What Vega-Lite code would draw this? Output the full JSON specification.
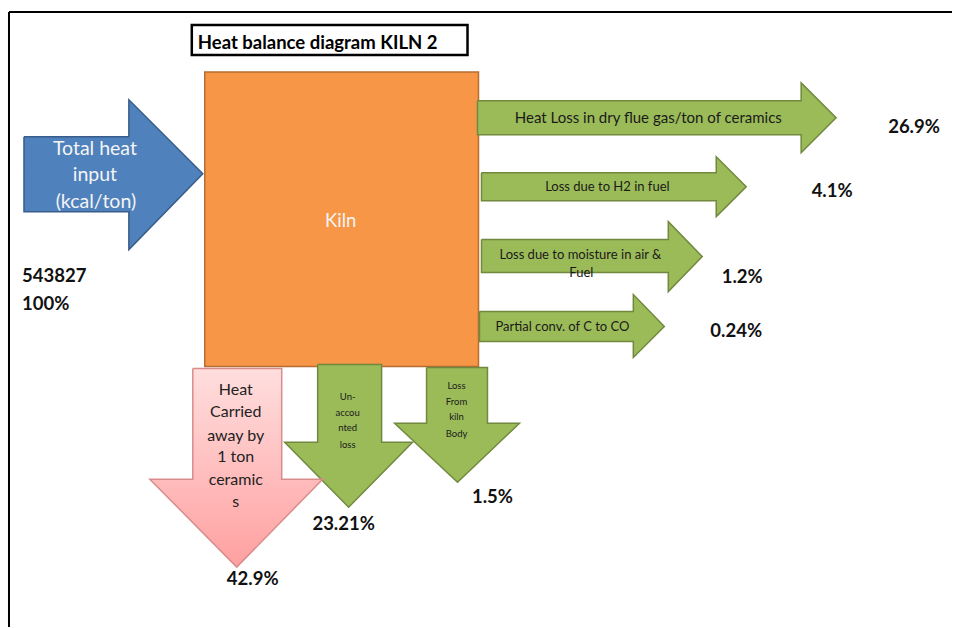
{
  "$schema": "https://vega.github.io/schema/vega-lite/v6.json",
  "width": 953,
  "height": 628,
  "autosize": {"type": "fit", "contains": "padding"},
  "padding": 0,
  "background": "white",
  "config": {"view": {"stroke": null}, "text": {"font": "Lato"}},
  "datasets": {
    "frame": [
      {"x": 9, "y": 12, "x2": 953, "y2": 12},
      {"x": 9, "y": 12, "x2": 9, "y2": 628}
    ],
    "boxes": [
      {"box": "title", "x": 192, "y": 25, "x2": 468, "y2": 55},
      {"box": "kiln", "x": 205, "y": 72, "x2": 479, "y2": 367}
    ],
    "shapes": [
      {"shape": "IN", "kind": "input", "i": 0, "x": 24, "y": 137},
      {"shape": "IN", "kind": "input", "i": 1, "x": 129, "y": 137},
      {"shape": "IN", "kind": "input", "i": 2, "x": 129, "y": 100},
      {"shape": "IN", "kind": "input", "i": 3, "x": 203, "y": 174},
      {"shape": "IN", "kind": "input", "i": 4, "x": 129, "y": 250},
      {"shape": "IN", "kind": "input", "i": 5, "x": 129, "y": 212},
      {"shape": "IN", "kind": "input", "i": 6, "x": 24, "y": 212},
      {"shape": "IN", "kind": "input", "i": 7, "x": 24, "y": 137},

      {"shape": "R1", "kind": "loss", "i": 0, "x": 478, "y": 101},
      {"shape": "R1", "kind": "loss", "i": 1, "x": 802, "y": 101},
      {"shape": "R1", "kind": "loss", "i": 2, "x": 802, "y": 83},
      {"shape": "R1", "kind": "loss", "i": 3, "x": 837, "y": 118},
      {"shape": "R1", "kind": "loss", "i": 4, "x": 802, "y": 153},
      {"shape": "R1", "kind": "loss", "i": 5, "x": 802, "y": 135},
      {"shape": "R1", "kind": "loss", "i": 6, "x": 478, "y": 135},
      {"shape": "R1", "kind": "loss", "i": 7, "x": 478, "y": 101},

      {"shape": "R2", "kind": "loss", "i": 0, "x": 482, "y": 173},
      {"shape": "R2", "kind": "loss", "i": 1, "x": 717, "y": 173},
      {"shape": "R2", "kind": "loss", "i": 2, "x": 717, "y": 157},
      {"shape": "R2", "kind": "loss", "i": 3, "x": 747, "y": 187},
      {"shape": "R2", "kind": "loss", "i": 4, "x": 717, "y": 217},
      {"shape": "R2", "kind": "loss", "i": 5, "x": 717, "y": 201},
      {"shape": "R2", "kind": "loss", "i": 6, "x": 482, "y": 201},
      {"shape": "R2", "kind": "loss", "i": 7, "x": 482, "y": 173},

      {"shape": "R3", "kind": "loss", "i": 0, "x": 482, "y": 240},
      {"shape": "R3", "kind": "loss", "i": 1, "x": 669, "y": 240},
      {"shape": "R3", "kind": "loss", "i": 2, "x": 669, "y": 222},
      {"shape": "R3", "kind": "loss", "i": 3, "x": 703, "y": 257},
      {"shape": "R3", "kind": "loss", "i": 4, "x": 669, "y": 292},
      {"shape": "R3", "kind": "loss", "i": 5, "x": 669, "y": 273},
      {"shape": "R3", "kind": "loss", "i": 6, "x": 482, "y": 273},
      {"shape": "R3", "kind": "loss", "i": 7, "x": 482, "y": 240},

      {"shape": "R4", "kind": "loss", "i": 0, "x": 480, "y": 312},
      {"shape": "R4", "kind": "loss", "i": 1, "x": 634, "y": 312},
      {"shape": "R4", "kind": "loss", "i": 2, "x": 634, "y": 295},
      {"shape": "R4", "kind": "loss", "i": 3, "x": 665, "y": 327},
      {"shape": "R4", "kind": "loss", "i": 4, "x": 634, "y": 358},
      {"shape": "R4", "kind": "loss", "i": 5, "x": 634, "y": 342},
      {"shape": "R4", "kind": "loss", "i": 6, "x": 480, "y": 342},
      {"shape": "R4", "kind": "loss", "i": 7, "x": 480, "y": 312},

      {"shape": "G1", "kind": "loss", "i": 0, "x": 318, "y": 365},
      {"shape": "G1", "kind": "loss", "i": 1, "x": 382, "y": 365},
      {"shape": "G1", "kind": "loss", "i": 2, "x": 382, "y": 443},
      {"shape": "G1", "kind": "loss", "i": 3, "x": 413, "y": 443},
      {"shape": "G1", "kind": "loss", "i": 4, "x": 349, "y": 508},
      {"shape": "G1", "kind": "loss", "i": 5, "x": 285, "y": 443},
      {"shape": "G1", "kind": "loss", "i": 6, "x": 318, "y": 443},
      {"shape": "G1", "kind": "loss", "i": 7, "x": 318, "y": 365},

      {"shape": "G2", "kind": "loss", "i": 0, "x": 427, "y": 368},
      {"shape": "G2", "kind": "loss", "i": 1, "x": 488, "y": 368},
      {"shape": "G2", "kind": "loss", "i": 2, "x": 488, "y": 424},
      {"shape": "G2", "kind": "loss", "i": 3, "x": 520, "y": 424},
      {"shape": "G2", "kind": "loss", "i": 4, "x": 458, "y": 483},
      {"shape": "G2", "kind": "loss", "i": 5, "x": 395, "y": 424},
      {"shape": "G2", "kind": "loss", "i": 6, "x": 427, "y": 424},
      {"shape": "G2", "kind": "loss", "i": 7, "x": 427, "y": 368},

      {"shape": "PK", "kind": "product", "i": 0, "x": 193, "y": 369},
      {"shape": "PK", "kind": "product", "i": 1, "x": 282, "y": 369},
      {"shape": "PK", "kind": "product", "i": 2, "x": 282, "y": 480},
      {"shape": "PK", "kind": "product", "i": 3, "x": 323, "y": 480},
      {"shape": "PK", "kind": "product", "i": 4, "x": 237, "y": 568},
      {"shape": "PK", "kind": "product", "i": 5, "x": 150, "y": 480},
      {"shape": "PK", "kind": "product", "i": 6, "x": 193, "y": 480},
      {"shape": "PK", "kind": "product", "i": 7, "x": 193, "y": 369}
    ],
    "labels": [
      {"group": "title", "text": "Heat balance diagram KILN 2", "x": 198, "y": 43},
      {"group": "white", "text": "Total heat", "x": 95, "y": 149},
      {"group": "white", "text": "input", "x": 95, "y": 175},
      {"group": "white", "text": "(kcal/ton)", "x": 96, "y": 202},
      {"group": "kiln", "text": "Kiln", "x": 341, "y": 221},
      {"group": "left", "text": "543827", "x": 22, "y": 276},
      {"group": "left", "text": "100%", "x": 22, "y": 304},
      {"group": "flow1", "text": "Heat Loss in dry flue gas/ton of ceramics", "x": 649, "y": 118},
      {"group": "flow", "text": "Loss due to H2 in fuel", "x": 608, "y": 187},
      {"group": "flow", "text": "Loss due to moisture in air &", "x": 581, "y": 255},
      {"group": "flow", "text": "Fuel", "x": 582, "y": 273},
      {"group": "flow", "text": "Partial conv. of C to CO", "x": 563, "y": 328},
      {"group": "pct", "text": "26.9%", "x": 915, "y": 127},
      {"group": "pct", "text": "4.1%", "x": 833, "y": 191},
      {"group": "pct", "text": "1.2%", "x": 743, "y": 277},
      {"group": "pct", "text": "0.24%", "x": 737, "y": 332},
      {"group": "pct", "text": "23.21%", "x": 344, "y": 525},
      {"group": "pct", "text": "1.5%", "x": 493, "y": 498},
      {"group": "pct", "text": "42.9%", "x": 253, "y": 580},
      {"group": "pink", "text": "Heat", "x": 236, "y": 391},
      {"group": "pink", "text": "Carried", "x": 236, "y": 413},
      {"group": "pink", "text": "away by", "x": 236, "y": 437},
      {"group": "pink", "text": "1 ton", "x": 236, "y": 458},
      {"group": "pink", "text": "ceramic", "x": 236, "y": 481},
      {"group": "pink", "text": "s", "x": 236, "y": 503},
      {"group": "small", "text": "Un-", "x": 348, "y": 398},
      {"group": "small", "text": "accou", "x": 348, "y": 414},
      {"group": "small", "text": "nted", "x": 348, "y": 429},
      {"group": "small", "text": "loss", "x": 348, "y": 446},
      {"group": "small", "text": "Loss", "x": 457, "y": 387},
      {"group": "small", "text": "From", "x": 457, "y": 403},
      {"group": "small", "text": "kiln", "x": 457, "y": 418},
      {"group": "small", "text": "Body", "x": 457, "y": 435}
    ]
  },
  "encoding": {
    "x": {"field": "x", "type": "quantitative", "axis": null,
          "scale": {"domain": [0, 953], "nice": false, "zero": false}},
    "y": {"field": "y", "type": "quantitative", "axis": null,
          "scale": {"domain": [0, 628], "nice": false, "zero": false, "reverse": true}}
  },
  "layer": [
    {
      "data": {"name": "frame"},
      "mark": {"type": "rule", "color": "#000000", "strokeWidth": 2},
      "encoding": {"x2": {"field": "x2"}, "y2": {"field": "y2"}}
    },
    {
      "data": {"name": "boxes"},
      "transform": [{"filter": "datum.box === 'title'"}],
      "mark": {"type": "rect", "fill": "#ffffff", "stroke": "#000000", "strokeWidth": 2.5},
      "encoding": {"x2": {"field": "x2"}, "y2": {"field": "y2"}}
    },
    {
      "data": {"name": "boxes"},
      "transform": [{"filter": "datum.box === 'kiln'"}],
      "mark": {"type": "rect", "fill": "#F79646", "stroke": "#B66D31", "strokeWidth": 1.5},
      "encoding": {"x2": {"field": "x2"}, "y2": {"field": "y2"}}
    },
    {
      "data": {"name": "shapes"},
      "transform": [{"filter": "datum.kind === 'input'"}],
      "mark": {"type": "line", "fill": "#4F81BD", "stroke": "#385D8A", "strokeWidth": 1.5, "strokeJoin": "miter"},
      "encoding": {"detail": {"field": "shape"}, "order": {"field": "i", "type": "quantitative"}}
    },
    {
      "data": {"name": "shapes"},
      "transform": [{"filter": "datum.kind === 'loss'"}],
      "mark": {"type": "line", "fill": "#9BBB59", "stroke": "#71893F", "strokeWidth": 1.5, "strokeJoin": "miter"},
      "encoding": {"detail": {"field": "shape"}, "order": {"field": "i", "type": "quantitative"}}
    },
    {
      "data": {"name": "shapes"},
      "transform": [{"filter": "datum.kind === 'product'"}],
      "mark": {"type": "line",
               "fill": {"gradient": "linear", "x1": 0, "y1": 0, "x2": 0, "y2": 1,
                        "stops": [{"offset": 0, "color": "#FFDEDE"}, {"offset": 1, "color": "#FFA0A0"}]},
               "stroke": "#D98C8C", "strokeWidth": 1.5, "strokeJoin": "miter"},
      "encoding": {"detail": {"field": "shape"}, "order": {"field": "i", "type": "quantitative"}}
    },
    {
      "data": {"name": "labels"},
      "transform": [{"filter": "datum.group === 'title'"}],
      "mark": {"type": "text", "align": "left", "baseline": "middle", "fontSize": 18.5, "fontWeight": "bold", "color": "#000000"},
      "encoding": {"text": {"field": "text"}}
    },
    {
      "data": {"name": "labels"},
      "transform": [{"filter": "datum.group === 'white'"}],
      "mark": {"type": "text", "align": "center", "baseline": "middle", "fontSize": 19.5, "color": "#F4F4F4"},
      "encoding": {"text": {"field": "text"}}
    },
    {
      "data": {"name": "labels"},
      "transform": [{"filter": "datum.group === 'kiln'"}],
      "mark": {"type": "text", "align": "center", "baseline": "middle", "fontSize": 18.5, "color": "#F4F4F4"},
      "encoding": {"text": {"field": "text"}}
    },
    {
      "data": {"name": "labels"},
      "transform": [{"filter": "datum.group === 'left'"}],
      "mark": {"type": "text", "align": "left", "baseline": "middle", "fontSize": 18.5, "fontWeight": "bold", "color": "#111111"},
      "encoding": {"text": {"field": "text"}}
    },
    {
      "data": {"name": "labels"},
      "transform": [{"filter": "datum.group === 'pct'"}],
      "mark": {"type": "text", "align": "center", "baseline": "middle", "fontSize": 18.5, "fontWeight": "bold", "color": "#111111"},
      "encoding": {"text": {"field": "text"}}
    },
    {
      "data": {"name": "labels"},
      "transform": [{"filter": "datum.group === 'flow1'"}],
      "mark": {"type": "text", "align": "center", "baseline": "middle", "fontSize": 15, "color": "#1A1A1A"},
      "encoding": {"text": {"field": "text"}}
    },
    {
      "data": {"name": "labels"},
      "transform": [{"filter": "datum.group === 'flow'"}],
      "mark": {"type": "text", "align": "center", "baseline": "middle", "fontSize": 13, "color": "#1A1A1A"},
      "encoding": {"text": {"field": "text"}}
    },
    {
      "data": {"name": "labels"},
      "transform": [{"filter": "datum.group === 'pink'"}],
      "mark": {"type": "text", "align": "center", "baseline": "middle", "fontSize": 16, "color": "#222222"},
      "encoding": {"text": {"field": "text"}}
    },
    {
      "data": {"name": "labels"},
      "transform": [{"filter": "datum.group === 'small'"}],
      "mark": {"type": "text", "align": "center", "baseline": "middle", "fontSize": 9.5, "color": "#1A1A1A"},
      "encoding": {"text": {"field": "text"}}
    }
  ]
}
